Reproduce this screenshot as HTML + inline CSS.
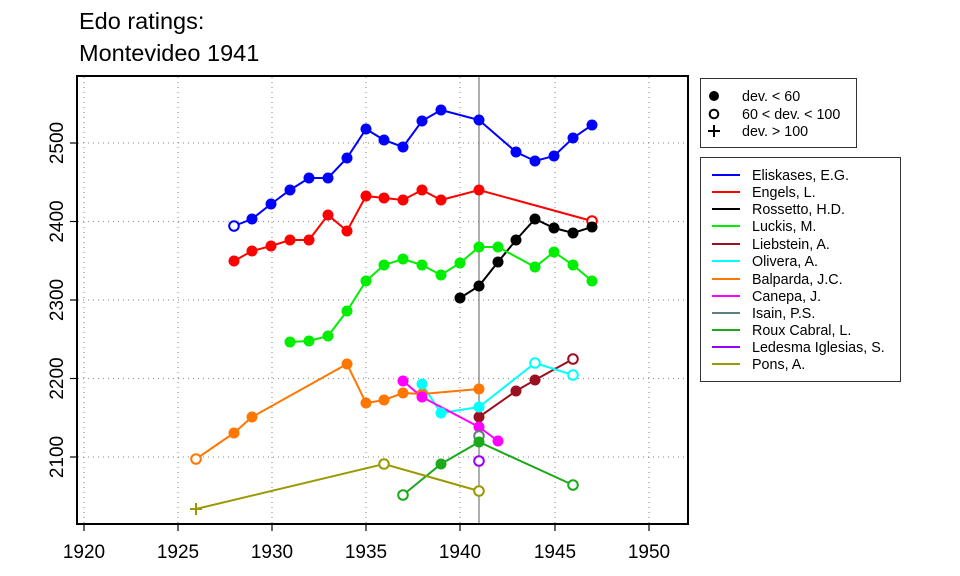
<!DOCTYPE html>
<html><head><style>body{margin:0;background:#fff}svg{display:block;font-family:"Liberation Sans",Arial,sans-serif}</style></head><body>
<svg width="960" height="576" viewBox="0 0 960 576">
<text x="79" y="29" font-size="23.5">Edo ratings:</text>
<text x="79" y="61" font-size="23.5">Montevideo 1941</text>
<g stroke="#999" stroke-dasharray="1,4" stroke-width="1.2">
<line x1="84" y1="77" x2="84" y2="523"/><line x1="178" y1="77" x2="178" y2="523"/><line x1="272" y1="77" x2="272" y2="523"/><line x1="366" y1="77" x2="366" y2="523"/><line x1="460" y1="77" x2="460" y2="523"/><line x1="555" y1="77" x2="555" y2="523"/><line x1="649" y1="77" x2="649" y2="523"/>
<line x1="78" y1="143" x2="687" y2="143"/><line x1="78" y1="221.5" x2="687" y2="221.5"/><line x1="78" y1="300" x2="687" y2="300"/><line x1="78" y1="378.5" x2="687" y2="378.5"/><line x1="78" y1="457" x2="687" y2="457"/>
</g>
<line x1="479" y1="77" x2="479" y2="523" stroke="#777" stroke-width="1.2"/>
<rect x="77" y="76" width="611" height="448" fill="none" stroke="#000" stroke-width="2"/>
<g stroke="#000" stroke-width="1.2">
<line x1="84" y1="524" x2="84" y2="531"/><line x1="178" y1="524" x2="178" y2="531"/><line x1="272" y1="524" x2="272" y2="531"/><line x1="366" y1="524" x2="366" y2="531"/><line x1="460" y1="524" x2="460" y2="531"/><line x1="555" y1="524" x2="555" y2="531"/><line x1="649" y1="524" x2="649" y2="531"/>
<line x1="70" y1="143" x2="77" y2="143"/><line x1="70" y1="221.5" x2="77" y2="221.5"/><line x1="70" y1="300" x2="77" y2="300"/><line x1="70" y1="378.5" x2="77" y2="378.5"/><line x1="70" y1="457" x2="77" y2="457"/>
</g>
<g font-size="19" text-anchor="middle">
<text x="84" y="558">1920</text><text x="178" y="558">1925</text><text x="272" y="558">1930</text><text x="366" y="558">1935</text><text x="460" y="558">1940</text><text x="555" y="558">1945</text><text x="649" y="558">1950</text>
<text transform="translate(63,143) rotate(-90)">2500</text><text transform="translate(63,221.5) rotate(-90)">2400</text><text transform="translate(63,300) rotate(-90)">2300</text><text transform="translate(63,378.5) rotate(-90)">2200</text><text transform="translate(63,457) rotate(-90)">2100</text>
</g>
<g fill="none" stroke-width="2">
<polyline stroke="#0000ff" points="234,226 252,219 271,204 290,190 309,178 328,178 347,158 366,129 384,140 403,147 422,121 441,110 479,120 516,152 535,161 554,156 573,138 592,125"/>
<polyline stroke="#ff0000" points="234,261 252,251 271,246 290,240 309,240 328,215 347,231 366,196 384,198 403,200 422,190 441,200 479,190 592,221"/>
<polyline stroke="#000" points="460,298 479,286 498,262 516,240 535,219 554,228 573,233 592,227"/>
<polyline stroke="#00ee00" points="290,342 309,341 328,336 347,311 366,281 384,265 403,259 422,265 441,275 460,263 479,247 498,247 535,267 554,252 573,265 592,281"/>
<polyline stroke="#9b1020" points="479,417 516,391 535,380 573,359"/>
<polyline stroke="#00ffff" points="422,384 441,413 479,407 535,363 573,375"/>
<polyline stroke="#ff7700" points="196,459 234,433 252,417 347,364 366,403 384,400 403,393 422,394 479,389"/>
<polyline stroke="#ff00ff" points="403,381 422,397 479,427 498,441"/>
<polyline stroke="#1aaa1a" points="403,495 441,464 479,442 573,485"/>
<polyline stroke="#999900" points="196,509 384,464 479,491"/>
</g>
<g>
<g fill="#0000ff"><circle cx="252" cy="219" r="5.5"/><circle cx="271" cy="204" r="5.5"/><circle cx="290" cy="190" r="5.5"/><circle cx="309" cy="178" r="5.5"/><circle cx="328" cy="178" r="5.5"/><circle cx="347" cy="158" r="5.5"/><circle cx="366" cy="129" r="5.5"/><circle cx="384" cy="140" r="5.5"/><circle cx="403" cy="147" r="5.5"/><circle cx="422" cy="121" r="5.5"/><circle cx="441" cy="110" r="5.5"/><circle cx="479" cy="120" r="5.5"/><circle cx="516" cy="152" r="5.5"/><circle cx="535" cy="161" r="5.5"/><circle cx="554" cy="156" r="5.5"/><circle cx="573" cy="138" r="5.5"/><circle cx="592" cy="125" r="5.5"/></g>
<circle cx="234" cy="226" r="4.8" fill="#fff" stroke="#0000ff" stroke-width="2"/>
<g fill="#ff0000"><circle cx="234" cy="261" r="5.5"/><circle cx="252" cy="251" r="5.5"/><circle cx="271" cy="246" r="5.5"/><circle cx="290" cy="240" r="5.5"/><circle cx="309" cy="240" r="5.5"/><circle cx="328" cy="215" r="5.5"/><circle cx="347" cy="231" r="5.5"/><circle cx="366" cy="196" r="5.5"/><circle cx="384" cy="198" r="5.5"/><circle cx="403" cy="200" r="5.5"/><circle cx="422" cy="190" r="5.5"/><circle cx="441" cy="200" r="5.5"/><circle cx="479" cy="190" r="5.5"/></g>
<circle cx="592" cy="221" r="4.8" fill="#fff" stroke="#ff0000" stroke-width="2"/>
<g fill="#000"><circle cx="460" cy="298" r="5.5"/><circle cx="479" cy="286" r="5.5"/><circle cx="498" cy="262" r="5.5"/><circle cx="516" cy="240" r="5.5"/><circle cx="535" cy="219" r="5.5"/><circle cx="554" cy="228" r="5.5"/><circle cx="573" cy="233" r="5.5"/><circle cx="592" cy="227" r="5.5"/></g>
<g fill="#00ee00"><circle cx="290" cy="342" r="5.5"/><circle cx="309" cy="341" r="5.5"/><circle cx="328" cy="336" r="5.5"/><circle cx="347" cy="311" r="5.5"/><circle cx="366" cy="281" r="5.5"/><circle cx="384" cy="265" r="5.5"/><circle cx="403" cy="259" r="5.5"/><circle cx="422" cy="265" r="5.5"/><circle cx="441" cy="275" r="5.5"/><circle cx="460" cy="263" r="5.5"/><circle cx="479" cy="247" r="5.5"/><circle cx="498" cy="247" r="5.5"/><circle cx="535" cy="267" r="5.5"/><circle cx="554" cy="252" r="5.5"/><circle cx="573" cy="265" r="5.5"/><circle cx="592" cy="281" r="5.5"/></g>
<g fill="#9b1020"><circle cx="479" cy="417" r="5.5"/><circle cx="516" cy="391" r="5.5"/><circle cx="535" cy="380" r="5.5"/></g>
<circle cx="573" cy="359" r="4.8" fill="#fff" stroke="#9b1020" stroke-width="2"/>
<g fill="#ff7700"><circle cx="234" cy="433" r="5.5"/><circle cx="252" cy="417" r="5.5"/><circle cx="347" cy="364" r="5.5"/><circle cx="366" cy="403" r="5.5"/><circle cx="384" cy="400" r="5.5"/><circle cx="403" cy="393" r="5.5"/><circle cx="422" cy="394" r="5.5"/><circle cx="479" cy="389" r="5.5"/></g>
<circle cx="196" cy="459" r="4.8" fill="#fff" stroke="#ff7700" stroke-width="2"/>
<g fill="#00ffff"><circle cx="422" cy="384" r="5.5"/><circle cx="441" cy="413" r="5.5"/><circle cx="479" cy="407" r="5.5"/></g>
<circle cx="535" cy="363" r="4.8" fill="#fff" stroke="#00ffff" stroke-width="2"/><circle cx="573" cy="375" r="4.8" fill="#fff" stroke="#00ffff" stroke-width="2"/>
<g fill="#ff00ff"><circle cx="403" cy="381" r="5.5"/><circle cx="422" cy="397" r="5.5"/><circle cx="479" cy="427" r="5.5"/><circle cx="498" cy="441" r="5.5"/></g>
<circle cx="479" cy="436" r="4.8" fill="#fff" stroke="#5f7f7f" stroke-width="2"/>
<g fill="#1aaa1a"><circle cx="441" cy="464" r="5.5"/><circle cx="479" cy="442" r="5.5"/></g>
<circle cx="403" cy="495" r="4.8" fill="#fff" stroke="#1aaa1a" stroke-width="2"/><circle cx="573" cy="485" r="4.8" fill="#fff" stroke="#1aaa1a" stroke-width="2"/>
<circle cx="479" cy="461" r="4.8" fill="#fff" stroke="#9900ff" stroke-width="2"/>
<circle cx="384" cy="464" r="4.8" fill="#fff" stroke="#999900" stroke-width="2"/><circle cx="479" cy="491" r="4.8" fill="#fff" stroke="#999900" stroke-width="2"/>
<path d="M190,509h12M196,503v12" stroke="#999900" stroke-width="2"/>
</g>
<rect x="700.5" y="78.5" width="156" height="69" fill="#fff" stroke="#333"/>
<circle cx="714" cy="96" r="5" fill="#000"/>
<circle cx="714" cy="114" r="4.3" fill="none" stroke="#000" stroke-width="2"/>
<path d="M708,131h12M714,125v12" stroke="#000" stroke-width="2"/>
<g font-size="14.3"><text x="742" y="101">dev. &lt; 60</text><text x="742" y="119">60 &lt; dev. &lt; 100</text><text x="742" y="136">dev. &gt; 100</text></g>
<rect x="700.5" y="157.5" width="200" height="224" fill="#fff" stroke="#333"/>
<g stroke-width="2">
<line x1="712" x2="740" y1="175" y2="175" stroke="#0000ff"/><line x1="712" x2="740" y1="192" y2="192" stroke="#ff0000"/><line x1="712" x2="740" y1="209" y2="209" stroke="#000"/><line x1="712" x2="740" y1="226" y2="226" stroke="#00ee00"/><line x1="712" x2="740" y1="244" y2="244" stroke="#9b1020"/><line x1="712" x2="740" y1="261" y2="261" stroke="#00ffff"/><line x1="712" x2="740" y1="279" y2="279" stroke="#ff7700"/><line x1="712" x2="740" y1="296" y2="296" stroke="#ff00ff"/><line x1="712" x2="740" y1="313" y2="313" stroke="#5f7f7f"/><line x1="712" x2="740" y1="330" y2="330" stroke="#1aaa1a"/><line x1="712" x2="740" y1="347" y2="347" stroke="#9900ff"/><line x1="712" x2="740" y1="364" y2="364" stroke="#999900"/>
</g>
<g font-size="14.3">
<text x="752" y="180">Eliskases, E.G.</text><text x="752" y="197">Engels, L.</text><text x="752" y="214">Rossetto, H.D.</text><text x="752" y="231">Luckis, M.</text><text x="752" y="249">Liebstein, A.</text><text x="752" y="266">Olivera, A.</text><text x="752" y="284">Balparda, J.C.</text><text x="752" y="301">Canepa, J.</text><text x="752" y="318">Isain, P.S.</text><text x="752" y="335">Roux Cabral, L.</text><text x="752" y="352">Ledesma Iglesias, S.</text><text x="752" y="369">Pons, A.</text>
</g>
</svg>
</body></html>
